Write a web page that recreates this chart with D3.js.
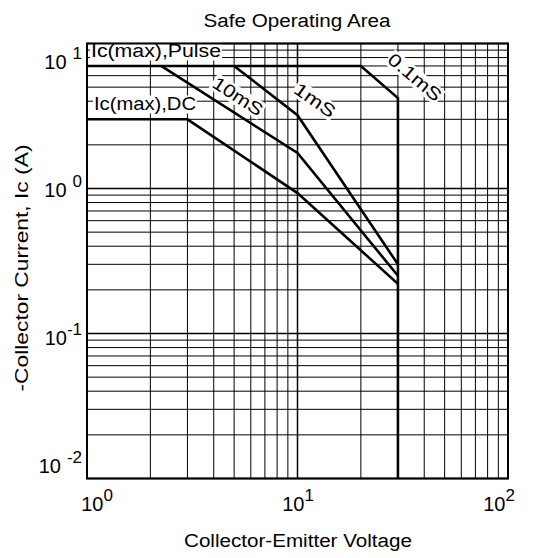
<!DOCTYPE html>
<html><head><meta charset="utf-8">
<script src="https://cdn.jsdelivr.net/npm/d3@7"></script>
<style>
body{margin:0;background:#fff}
text{font-family:"Liberation Sans",Arial,Helvetica,sans-serif;fill:#000}
</style>
</head><body>
<svg id="chart" width="542" height="558"></svg>
<script>
// ---- data ----
const chartTitle = "Safe Operating Area";
const xAxisTitle = "Collector-Emitter Voltage";
const yAxisTitle = "-Collector Current, Ic (A)";
const xDomain = [1, 100];
const yDomain = [0.01, 10];
const xTickValues = [1, 10, 100];
const xTickExponents = ["0", "1", "2"];
const yTickValues = [10, 1, 0.1, 0.01];
const yTickExponents = ["1", "0", "-1", "-2"];
const yTickSpaced = [true, true, false, true];

// SOA boundary curves (V, A)
const pulse01V = [1, 20, 30, 30];
const pulse01I = [7, 7, 4.2, 0.01];
const pulse1V = [5, 10, 30];
const pulse1I = [7, 3.2, 0.30];
const pulse10V = [2.25, 10, 30];
const pulse10I = [7, 1.76, 0.25];
const dcV = [1, 3, 10, 30];
const dcI = [3, 3, 0.93, 0.22];

const curveLabels = ["Ic(max),Pulse", "Ic(max),DC", "10mS", "1mS", "0.1mS"];

// ---- layout ----
const svg = d3.select("#chart");
const L = 87, R = 508, T = 43.5, B = 478.5;
const x = d3.scaleLog().domain(xDomain).range([L, R]);
const y = d3.scaleLog().domain(yDomain).range([B, T]);
// tick labels sit on slightly inset positions
const xLab = d3.scaleLog().domain(xDomain).range([L + 10, R - 9]);
const yLabBase = [69, 197, 345, 473];

// grid
const grid = svg.append("g");
function decadeValues(lo, hi) {
  const out = [];
  for (let d = lo; d < hi * 0.999; d *= 10) for (let k = 1; k < 10; k++) out.push(d * k);
  out.push(hi);
  return out;
}
const xg = decadeValues(xDomain[0], xDomain[1]);
const yg = decadeValues(yDomain[0], yDomain[1]);
grid.selectAll("line.v").data(xg).join("line")
  .attr("x1", d => x(d)).attr("x2", d => x(d)).attr("y1", T).attr("y2", B)
  .attr("stroke", "#000").attr("stroke-width", d => xTickValues.includes(d) ? 1.5 : 1);
grid.selectAll("line.h").data(yg).join("line")
  .attr("y1", d => y(d)).attr("y2", d => y(d)).attr("x1", L).attr("x2", R)
  .attr("stroke", "#000").attr("stroke-width", d => yTickValues.includes(d) ? 1.5 : 1);

// labels with white background
const labG = svg.append("g");
function boxedLabel(txt, px, py, angle, anchor, size, len) {
  const g = labG.append("g").attr("transform", `translate(${px},${py}) rotate(${angle})`);
  const r = g.append("rect").attr("fill", "#fff");
  const t = g.append("text").attr("text-anchor", anchor).attr("font-size", size)
    .attr("dy", "0.36em").text(txt);
  if (len) t.attr("textLength", len).attr("lengthAdjust", "spacingAndGlyphs");
  const bb = t.node().getBBox();
  r.attr("x", bb.x - 1).attr("y", bb.y + 1).attr("width", bb.width + 2).attr("height", bb.height - 2);
  return t;
}
boxedLabel(curveLabels[0], 91, 51, 0, "start", 18, 130);
boxedLabel(curveLabels[1], 94, 104, 0, "start", 18, 102);
boxedLabel(curveLabels[2], 238, 96, 33, "middle", 18, 56);
boxedLabel(curveLabels[3], 315, 100, 35, "middle", 18, 46);
boxedLabel(curveLabels[4], 415, 77, 40, "middle", 18, 64);

// curves
const line = d3.line().x(d => x(d[0])).y(d => y(d[1]));
const curves = [
  d3.zip(pulse01V, pulse01I),
  d3.zip(pulse1V, pulse1I),
  d3.zip(pulse10V, pulse10I),
  d3.zip(dcV, dcI)
];
svg.append("g").selectAll("path").data(curves).join("path")
  .attr("d", line).attr("fill", "none").attr("stroke", "#000")
  .attr("stroke-width", 2.6).attr("stroke-linejoin", "miter");

// frame
svg.append("rect").attr("x", L).attr("y", T).attr("width", R - L).attr("height", B - T)
  .attr("fill", "none").attr("stroke", "#000").attr("stroke-width", 2);

// x tick labels
const xt = svg.append("g").selectAll("text").data(xTickValues).join("text")
  .attr("x", d => xLab(d)).attr("y", 511).attr("text-anchor", "middle").attr("font-size", 20);
xt.append("tspan").text("10");
xt.append("tspan").attr("dy", -10).attr("font-size", 17).text((d, i) => xTickExponents[i]);

// y tick labels
const yt = svg.append("g").selectAll("text").data(yTickValues).join("text")
  .attr("x", 82).attr("y", (d, i) => yLabBase[i]).attr("text-anchor", "end").attr("font-size", 20);
yt.append("tspan").text("10");
yt.append("tspan").attr("dy", -10).attr("dx", (d, i) => yTickSpaced[i] ? 6 : 0)
  .attr("font-size", 17).text((d, i) => yTickExponents[i]);

// titles
svg.append("text").attr("x", 297).attr("y", 27).attr("text-anchor", "middle")
  .attr("font-size", 18).attr("textLength", 187).attr("lengthAdjust", "spacingAndGlyphs").text(chartTitle);
svg.append("text").attr("x", 298).attr("y", 547).attr("text-anchor", "middle")
  .attr("font-size", 18).attr("textLength", 228).attr("lengthAdjust", "spacingAndGlyphs").text(xAxisTitle);
svg.append("text").attr("transform", "translate(28,268) rotate(-90)").attr("text-anchor", "middle")
  .attr("font-size", 18).attr("textLength", 247).attr("lengthAdjust", "spacingAndGlyphs").text(yAxisTitle);
</script>
</body></html>
